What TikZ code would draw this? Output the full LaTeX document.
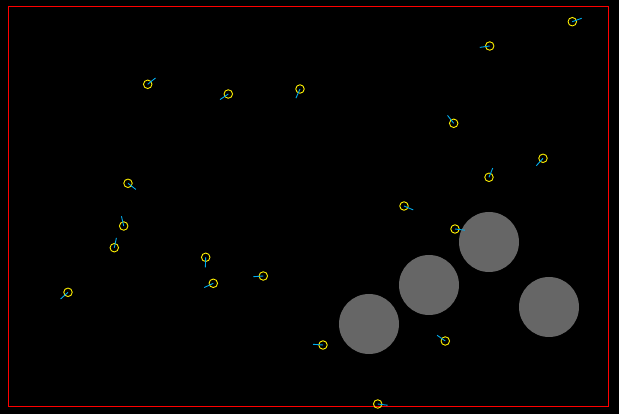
\documentclass[tikz,border=0pt]{standalone}
\usetikzlibrary{positioning}

\begin{document}
\begin{tikzpicture}[
    x=1pt, y=-1pt,
    arena/.style={draw=red, line width=1pt},
    obstacle/.style={circle, fill=obstgray, minimum size=60pt, inner sep=0pt},
    robot/.style={circle, draw=yellow, line width=0.9pt, minimum size=8.5pt, inner sep=0pt},
    heading/.style={draw=cyan, line width=0.9pt},
  ]
    \definecolor{obstgray}{HTML}{666666}
    \fill[black] (0,0) rectangle (619,414);
    \useasboundingbox (0,0) rectangle (619,414);

    % arena border
    \draw[arena] (8.5,7) rectangle (608.5,406.5);

    % obstacles
    \node[obstacle] (obsA) at (369,324) {};
    \node[obstacle] (obsB) at (429,285) {};
    \node[obstacle] (obsC) at (489,242) {};
    \node[obstacle] (obsD) at (549,307) {};

    % robots: name / x / y / heading angle
    \foreach \name/\px/\py/\ang in {
        r1/147.7/84.3/39, r2/228.3/94/214, r3/300/89/246, r4/572.3/21.7/20,
        r5/489.7/46/188, r6/453.7/123.3/128, r7/128/183.3/322, r8/123.7/226/103,
        r9/114.3/247.7/78, r10/205.7/257.3/268, r11/263.3/276/184, r12/404/206/337,
        r13/543/158.3/228, r14/489/177.3/68, r15/455/229/353, r16/68/292.3/222,
        r17/213.3/283.3/205, r18/323/345/176, r19/377.7/404/353, r20/445.3/341/145} {
      \node[robot] (\name) at (\px,\py) {};
      \draw[heading] (\name.center) -- ++(\ang:10pt);
    }
\end{tikzpicture}
\end{document}
